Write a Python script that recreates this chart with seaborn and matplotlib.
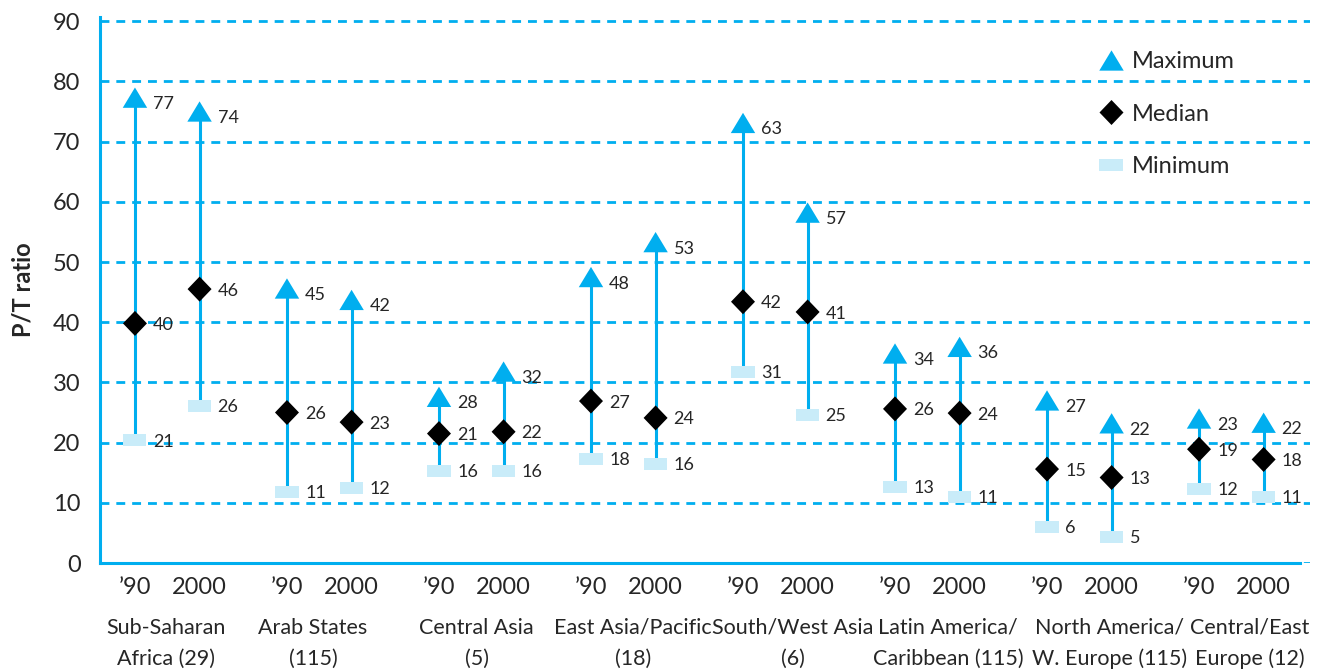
import numpy as np
import pandas as pd
import matplotlib
matplotlib.use("Agg")
import matplotlib.pyplot as plt
from matplotlib.markers import MarkerStyle
from matplotlib.lines import Line2D
import seaborn as sns

# regions (number of countries in brackets)
regions = ["Sub-Saharan\nAfrica (29)", "Arab States\n(115)", "Central Asia\n(5)",
           "East Asia/Pacific\n(18)", "South/West Asia\n(6)", "Latin America/\nCaribbean (115)",
           "North America/\nW. Europe (115)", "Central/East\nEurope (12)"]
years = ["\u201990", "2000"]

# plotted positions
max_90 = [77.3, 45.6, 27.6, 47.5, 73.1, 34.8, 27.0, 24.0]
max_00 = [75.0, 43.7, 31.8, 53.3, 58.2, 35.9, 23.2, 23.3]
med_90 = [39.8, 25.0, 21.5, 26.9, 43.4, 25.6, 15.6, 18.9]
med_00 = [45.5, 23.4, 21.8, 24.1, 41.7, 24.9, 14.2, 17.2]
min_90 = [20.4, 11.8, 15.3, 17.3, 31.8, 12.7, 6.0, 12.3]
min_00 = [26.1, 12.5, 15.3, 16.5, 24.6, 11.0, 4.4, 11.0]

# printed value labels
max_90_lbl = [77, 45, 28, 48, 63, 34, 27, 23]
max_00_lbl = [74, 42, 32, 53, 57, 36, 22, 22]
med_90_lbl = [40, 26, 21, 27, 42, 26, 15, 19]
med_00_lbl = [46, 23, 22, 24, 41, 24, 13, 18]
min_90_lbl = [21, 11, 16, 18, 31, 13, 6, 12]
min_00_lbl = [26, 12, 16, 16, 25, 11, 5, 11]

CYAN = "#00AEEF"
PALE = "#C9ECF9"
FONT = ["Lato", "DejaVu Sans"]

sns.set_style("white")
plt.rcParams["font.family"] = FONT

# long form table
rows = []
for i in range(len(regions)):
    for j, yr in enumerate(years):
        vals = [(max_90, max_90_lbl), (max_00, max_00_lbl)][j]
        meds = [(med_90, med_90_lbl), (med_00, med_00_lbl)][j]
        mins = [(min_90, min_90_lbl), (min_00, min_00_lbl)][j]
        x = i + [0.23, 0.655][j]
        rows.append(dict(region=i, year=yr, x=x, stat="Maximum", value=vals[0][i], label=vals[1][i]))
        rows.append(dict(region=i, year=yr, x=x, stat="Median", value=meds[0][i], label=meds[1][i]))
        rows.append(dict(region=i, year=yr, x=x, stat="Minimum", value=mins[0][i], label=mins[1][i]))
df = pd.DataFrame(rows)

fig = plt.figure(figsize=(13.24, 6.70), dpi=100)
ax = fig.add_axes([100 / 1324, 107 / 670, 1210 / 1324, 546 / 670])

tri = MarkerStyle([(-1, -0.83), (1, -0.83), (0, 0.83)])
dia = MarkerStyle([(0, 1), (0.96, 0), (0, -1), (-0.96, 0)])
rect = MarkerStyle([(-1, -0.52), (1, -0.52), (1, 0.52), (-1, 0.52)])
styles = {"Maximum": (tri, CYAN, 310), "Median": (dia, "black", 324), "Minimum": (rect, PALE, 276)}

# whiskers min -> max
wide = df.pivot_table(index="x", columns="stat", values="value").reset_index()
ax.vlines(wide["x"], wide["Minimum"], wide["Maximum"], color=CYAN, lw=2.2, zorder=2)

for stat, (m, c, s) in styles.items():
    sub = df[df["stat"] == stat]
    sns.scatterplot(data=sub, x="x", y="value", marker=m, color=c, s=s,
                    linewidth=0, edgecolor="none", ax=ax, legend=False, zorder=3)

# value labels
for _, r in df.iterrows():
    dy = -8.3 if r["stat"] == "Maximum" else -4.7
    ax.annotate(str(r["label"]), (r["x"], r["value"]), xytext=(13, dy),
                textcoords="offset points", ha="left", va="baseline", fontsize=13)

# axes
ax.set_ylim(0, 90.7)
ax.set_xlim(0, 7.96)
ax.set_yticks(range(0, 91, 10))
ax.yaxis.grid(True, color=CYAN, lw=2, linestyle=(0, (3.2, 2.5)))
ax.set_axisbelow(True)
ax.tick_params(axis="y", length=0, pad=14, labelsize=17)
ax.set_xlabel("")
ax.set_ylabel("")
for side in ["top", "right"]:
    ax.spines[side].set_visible(False)
for side in ["left", "bottom"]:
    ax.spines[side].set_color(CYAN)
    ax.spines[side].set_linewidth(2.2)
ax.spines["bottom"].set_bounds(0, 7.895)

bounds = []
for i in range(len(regions)):
    if i > 0:
        bounds.append(i)
    bounds += [i + 0.454, i + 0.895]
ax.set_xticks(bounds)
ax.set_xticklabels([])
ax.tick_params(axis="x", which="major", direction="inout", length=12, width=2, color=CYAN)

pts = sorted(df["x"].unique())
ax.set_xticks(pts, [years[k % 2] for k in range(len(pts))], minor=True)
ax.tick_params(axis="x", which="minor", length=0, pad=10, labelsize=17)

shift = [-0.016, -0.046, 0.03, 0.058, 0.108, 0.13, 0.195, 0.115]
for i, name in enumerate(regions):
    ax.text(i + 0.4475 + shift[i], -0.1007, name, transform=ax.get_xaxis_transform(),
            ha="center", va="top", multialignment="center", fontsize=15.5, linespacing=1.65)

ax.text(-0.064, 0.5, "P/T ratio", transform=ax.transAxes, rotation=90,
        ha="center", va="center", fontsize=17, fontweight="bold")

handles = [Line2D([], [], linestyle="none", marker=m, color=c, markeredgewidth=0,
                  markersize=np.sqrt(s), label=stat) for stat, (m, c, s) in styles.items()]
ax.legend(handles=handles, loc="upper left", bbox_to_anchor=(1099 / 1324, 1 - 51 / 670),
          bbox_transform=fig.transFigure, frameon=False, fontsize=17, handlelength=1.0,
          handletextpad=0.4, labelspacing=1.34, borderpad=0, borderaxespad=0)

fig.savefig("out.png", dpi=100)
